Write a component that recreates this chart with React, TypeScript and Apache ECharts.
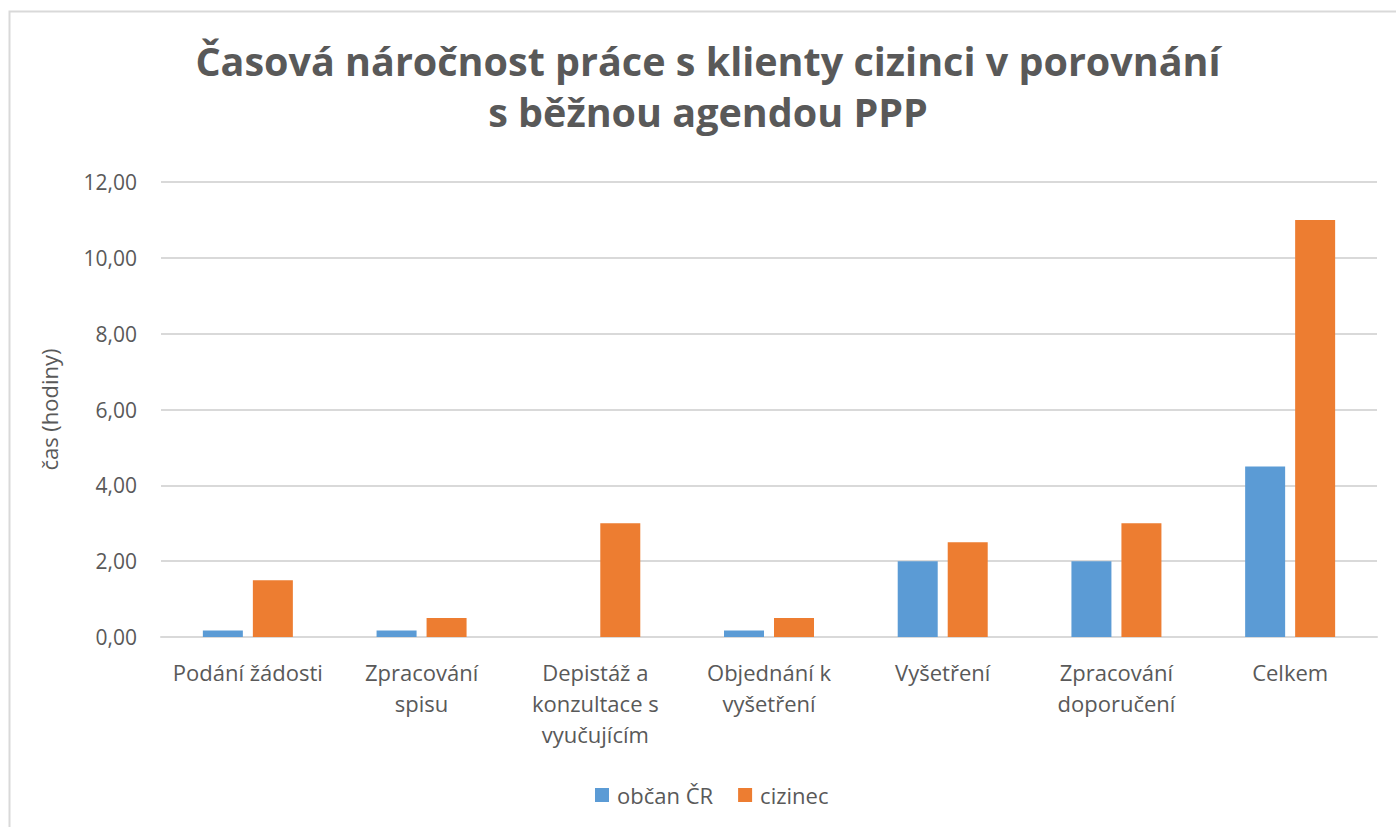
import React, { useEffect, useRef } from "react";
import * as echarts from "echarts";

const categories = [
  "Podání žádosti",
  "Zpracování\nspisu",
  "Depistáž a\nkonzultace s\nvyučujícím",
  "Objednání k\nvyšetření",
  "Vyšetření",
  "Zpracování\ndoporučení",
  "Celkem",
];
const obcanCR = [0.17, 0.17, 0, 0.17, 2, 2, 4.5];
const cizinec = [1.5, 0.5, 3, 0.5, 2.5, 3, 11];
const seriesNames = ["občan ČR", "cizinec"];
const titleText = "Časová náročnost práce s klienty cizinci v porovnání\ns běžnou agendou PPP";
const yAxisName = "čas (hodiny)";

const FONT = "'Open Sans', 'DejaVu Sans', sans-serif";
const TEXT = "#595959";

export default function App() {
  const ref = useRef<HTMLDivElement>(null);
  useEffect(() => {
    document.body.style.margin = "0";
    const chart = echarts.init(ref.current!, null, { renderer: "svg" });
    chart.setOption({
      animation: false,
      backgroundColor: "#ffffff",
      graphic: [
        {
          type: "rect",
          shape: { x: 9.5, y: 11.5, width: 1500, height: 900 },
          style: { fill: "none", stroke: "#D9D9D9", lineWidth: 2 },
          silent: true,
        },
        {
          type: "text",
          x: 708,
          y: 35,
          style: {
            text: titleText,
            font: `bold 39.5px ${FONT}`,
            fill: TEXT,
            textAlign: "center",
            textVerticalAlign: "top",
            lineHeight: 51,
          },
        },
      ],
      legend: {
        data: seriesNames,
        left: 590,
        top: 779,
        itemWidth: 14,
        itemHeight: 14,
        itemGap: 25,
        icon: "rect",
        textStyle: { fontFamily: FONT, fontSize: 22, color: TEXT, padding: [0, 0, 0, 3] },
      },
      grid: { left: 161, right: 19, top: 182, bottom: 190 },
      xAxis: {
        type: "category",
        data: categories,
        axisLine: { lineStyle: { color: "#D9D9D9", width: 2 } },
        axisTick: { show: false },
        axisLabel: {
          fontFamily: FONT,
          fontSize: 22,
          color: TEXT,
          margin: 19,
          lineHeight: 31,
          interval: 0,
        },
      },
      yAxis: {
        type: "value",
        min: 0,
        max: 12,
        interval: 2,
        name: yAxisName,
        nameLocation: "middle",
        nameRotate: 90,
        nameGap: 101,
        nameTextStyle: { fontFamily: FONT, fontSize: 22, color: TEXT },
        axisLine: { show: false },
        axisTick: { show: false },
        splitLine: { lineStyle: { color: "#D9D9D9", width: 2 } },
        axisLabel: {
          fontFamily: FONT,
          fontSize: 21,
          color: TEXT,
          margin: 24,
          formatter: (v: number) => v.toFixed(2).replace(".", ","),
        },
      },
      series: [
        {
          name: seriesNames[0],
          type: "bar",
          data: obcanCR,
          barWidth: 40,
          barGap: "25%",
          itemStyle: { color: "#5B9BD5" },
        },
        {
          name: seriesNames[1],
          type: "bar",
          data: cizinec,
          barWidth: 40,
          barGap: "25%",
          itemStyle: { color: "#ED7D31" },
        },
      ],
    });
    return () => chart.dispose();
  }, []);
  return <div ref={ref} style={{ width: 1396, height: 827 }} />;
}
